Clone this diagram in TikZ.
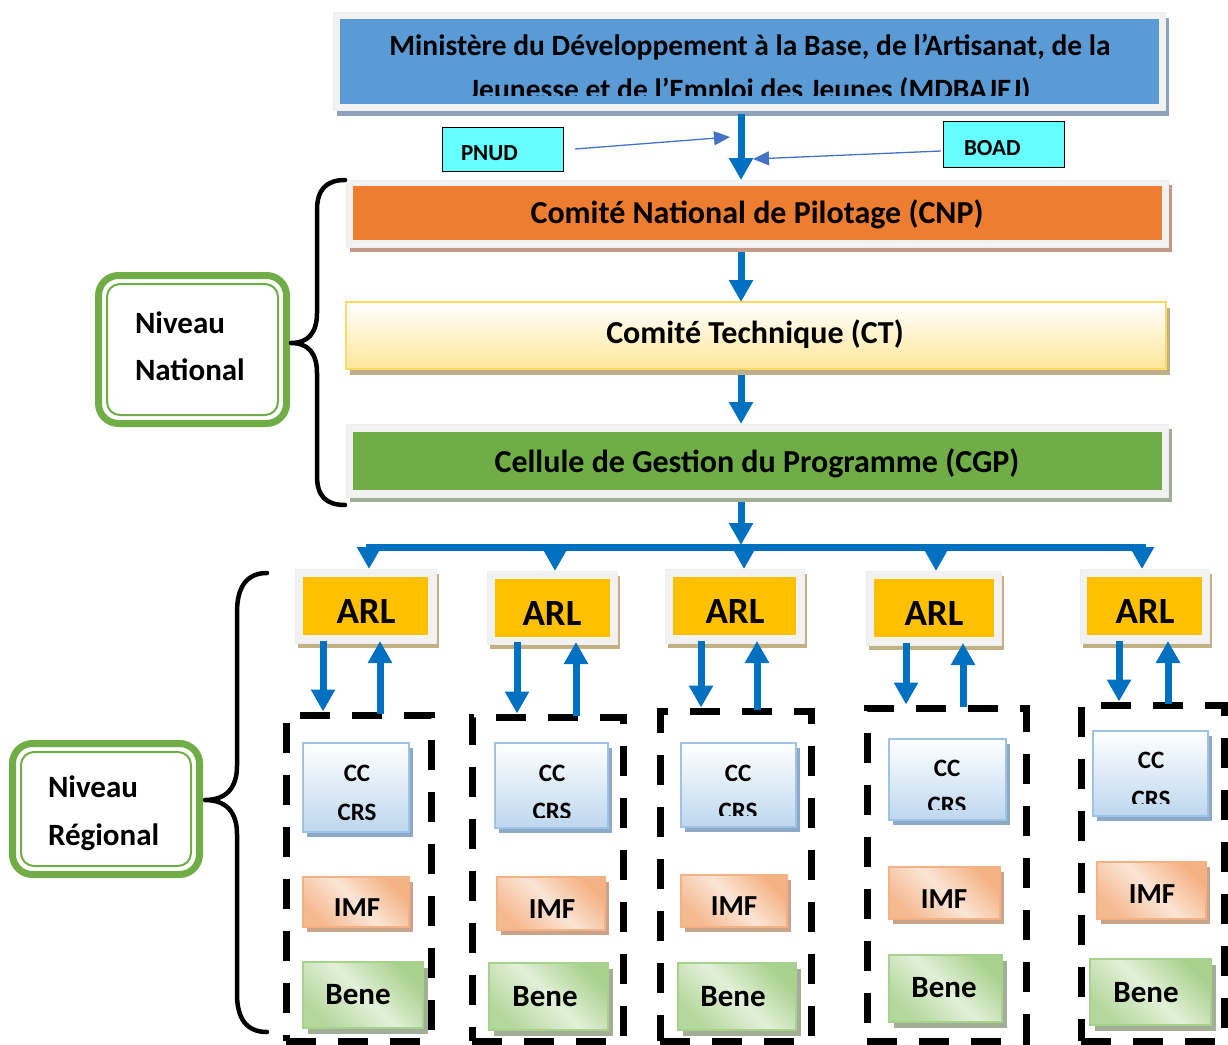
\documentclass[tikz,border=0pt]{standalone}
\usepackage{fontspec}
\setmainfont{Carlito}
\usetikzlibrary{arrows.meta,shadows,calc,fit}

\definecolor{mblue}{HTML}{5B9BD5}
\definecolor{frameg}{HTML}{F2F2F2}
\definecolor{shblue}{HTML}{8EA2BA}
\definecolor{orng}{HTML}{ED7D31}
\definecolor{shorng}{HTML}{C49A86}
\definecolor{ctyel}{HTML}{FFE699}
\definecolor{ctbord}{HTML}{FFD966}
\definecolor{shtan}{HTML}{BFB08A}
\definecolor{cgpg}{HTML}{70AD47}
\definecolor{shgreen}{HTML}{A0AE98}
\definecolor{arly}{HTML}{FFC000}
\definecolor{sharl}{HTML}{C2B283}
\definecolor{arrowb}{HTML}{0070C0}
\definecolor{thinb}{HTML}{4472C4}
\definecolor{cyanbox}{HTML}{66FFFF}
\definecolor{ccb}{HTML}{BDD7EE}
\definecolor{ccbord}{HTML}{9DC3E6}
\definecolor{shcc}{HTML}{8EA9C8}
\definecolor{imfd}{HTML}{F4B183}
\definecolor{imfl}{HTML}{FBE5D6}
\definecolor{shimf}{HTML}{C9A38C}
\definecolor{bened}{HTML}{A9D18E}
\definecolor{benel}{HTML}{E2F0D9}
\definecolor{shbene}{HTML}{A3AE98}
\definecolor{lvlg}{HTML}{70AD47}

\newcommand\fsz[1]{\fontsize{#1}{#1}\selectfont\bfseries}

\begin{document}
\begin{tikzpicture}[x=1pt,y=-1pt,
  txt/.style={inner sep=0pt, outer sep=0pt, text=black, anchor=base},
  titletxt/.style={txt, font=\fsz{29.5}},
  lvltxt/.style={txt, font=\fsz{32}},
  fundtxt/.style={txt, anchor=base west, font=\fsz{23}},
  arltxt/.style={txt, font=\fsz{37}},
  cctxt/.style={txt, font=\fsz{25}},
  imftxt/.style={txt, font=\fsz{29}},
  benetxt/.style={txt, font=\fsz{31}},
  leveltxt/.style={txt, anchor=base west, font=\fsz{31}},
  frame/.style={fill=frameg, draw=black!7, line width=0.6pt, inner sep=0pt, outer sep=0pt},
  plain/.style={inner sep=0pt, outer sep=0pt},
  fundbox/.style={plain, fill=cyanbox, draw=black, line width=1pt},
  arlframe/.style={frame, general shadow={fill=sharl, shadow xshift=3pt, shadow yshift=-5pt}},
  arlfill/.style={plain, fill=arly},
  grpbox/.style={plain, draw=black, line width=7pt, dash pattern=on 30pt off 22pt},
  ccbox/.style={plain, draw=ccbord, line width=1.5pt, top color=white, bottom color=ccb,
    general shadow={fill=shcc, shadow xshift=4pt, shadow yshift=-5pt}},
  imfbox/.style={plain, draw=imfd, line width=1.5pt, top color=imfd, bottom color=imfd!85!imfl,
    middle color=imfl, shading angle=-45,
    general shadow={fill=shimf, shadow xshift=4pt, shadow yshift=-5pt}},
  benebox/.style={plain, draw=bened, line width=1.5pt, top color=bened, bottom color=bened!80!benel,
    middle color=benel, shading angle=-45,
    general shadow={fill=shbene, shadow xshift=5pt, shadow yshift=-6pt}},
  lvlbox/.style={plain, draw=lvlg, line width=7pt, fill=white, rounded corners=20pt},
  lvlinner/.style={draw=lvlg, line width=2pt, rounded corners=13pt},
  bigarrow/.style={draw=arrowb, line width=7pt, -{Triangle[width=23pt,length=22pt]}},
  thinarrow/.style={draw=thinb, line width=1.3pt, -{Triangle[width=14pt,length=16pt]}},
  brace/.style={draw=black, line width=4.5pt, line cap=round, line join=round},
]
\useasboundingbox (0,0) rectangle (1228,1044);

% ---------- national level ----------
\node[frame, fit={(333,12)(1165,110)},
      general shadow={fill=shblue, shadow xshift=4pt, shadow yshift=-6pt}] (mdbF) {};
\node[plain, fill=mblue, fit={(340,19)(1159,104)}] (mdb) {};
\begin{scope}
  \clip (340,19) rectangle (1159,95.5);
  \node[titletxt] (mdbL1) at (750,55) {Ministère du Développement à la Base, de l’Artisanat, de la};
  \node[titletxt] (mdbL2) at (750,99) {Jeunesse et de l’Emploi des Jeunes (MDBAJEJ)};
\end{scope}

\node[fundbox, fit={(442,127)(563,171)}] (pnud) {};
\node[fundtxt] (pnudT) at (461,160) {PNUD};
\node[fundbox, fit={(943,121)(1064,167)}] (boad) {};
\node[fundtxt] (boadT) at (964,155) {BOAD};

\node[frame, fit={(346,180)(1168,247)},
      general shadow={fill=shorng, shadow xshift=4pt, shadow yshift=-5pt}] (cnpF) {};
\node[plain, fill=orng, fit={(353,186)(1162,240)}] (cnp) {};
\node[lvltxt] (cnpT) at (757,223) {Comité National de Pilotage (CNP)};

\node[plain, fit={(346,302)(1166,369)}, draw=ctbord, line width=2pt,
      top color=white, bottom color=ctyel,
      general shadow={fill=shtan, shadow xshift=4pt, shadow yshift=-6pt}] (ct) {};
\node[lvltxt] (ctT) at (755,343) {Comité Technique (CT)};

\node[frame, fit={(346,424)(1168,497)},
      general shadow={fill=shgreen, shadow xshift=4pt, shadow yshift=-5pt}] (cgpF) {};
\node[plain, fill=cgpg, fit={(353,432)(1162,490)}] (cgp) {};
\node[lvltxt] (cgpT) at (757,472) {Cellule de Gestion du Programme (CGP)};

% main chain
\coordinate (spine) at (741,0);
\coordinate (pnudTip) at (730,137);
\coordinate (boadTip) at (753,159);
\draw[bigarrow, shorten <=4pt] (mdbF.south -| spine) -- (cnpF.north -| spine);
\draw[thinarrow] ($(pnud.east)+(12,0)$) -- (pnudTip);
\draw[thinarrow] ($(boad.west)+(-2,7)$) -- (boadTip);
\draw[bigarrow, shorten <=5pt] (cnpF.south -| spine) -- (ct.north -| spine);
\draw[bigarrow, shorten <=6pt] (ct.south -| spine) -- (cgpF.north -| spine);

% distribution bus
\coordinate (busL) at (369,547);
\coordinate (busR) at (1142,547);
\draw[bigarrow, shorten <=5pt, shorten >=2pt] (cgpF.south -| spine) -- (busL -| spine);
\draw[draw=arrowb, line width=7pt, line cap=rect] (busL) -- (busR);

% ---------- regional level ----------
% ARL boxes
\node[arlframe, fit={(295,569)(436,643)}] (arlF1) {};
\node[arlfill, fit={(303,577)(428,635)}] (arl1) {};
\node[arltxt] (arlT1) at (366,623) {ARL};
\node[arlframe, fit={(487,571)(617,644)}] (arlF2) {};
\node[arlfill, fit={(495,579)(610,637)}] (arl2) {};
\node[arltxt] (arlT2) at (552,625) {ARL};
\node[arlframe, fit={(665,569)(804,643)}] (arlF3) {};
\node[arlfill, fit={(673,577)(796,635)}] (arl3) {};
\node[arltxt] (arlT3) at (735,623) {ARL};
\node[arlframe, fit={(866,571)(1001,645)}] (arlF4) {};
\node[arlfill, fit={(874,579)(994,637)}] (arl4) {};
\node[arltxt] (arlT4) at (934,625) {ARL};
\node[arlframe, fit={(1080,569)(1209,643)}] (arlF5) {};
\node[arlfill, fit={(1087,577)(1202,635)}] (arl5) {};
\node[arltxt] (arlT5) at (1145,623) {ARL};

\foreach \i/\x in {1/369, 2/555, 3/744, 4/936, 5/1142} {
  \coordinate (bx\i) at (\x,0);
  \draw[bigarrow] (busL -| bx\i) -- (arlF\i.north -| bx\i);
}

% local groups
\node[grpbox, fit={(286,715)(431,1041)}] (grp1) {};
\node[grpbox, fit={(472,717)(623,1041)}] (grp2) {};
\node[grpbox, fit={(660,711)(811,1041)}] (grp3) {};
\node[grpbox, fit={(867,708)(1026,1041)}] (grp4) {};
\node[grpbox, fit={(1081,705)(1224,1041)}] (grp5) {};

% column 1
\node[ccbox, fit={(303,743)(409,832)}] (cc1) {};
\node[cctxt] (cc1a) at (357,781) {CC};
\node[cctxt] (cc1b) at (357,820) {CRS};
\node[imfbox, fit={(303,877)(409,927)}] (imf1) {};
\begin{scope}\clip (303,877) rectangle (409,915.5);
  \node[imftxt] (imf1t) at (357,917) {IMF};
\end{scope}
\node[benebox, fit={(303,962)(423,1028)}] (bene1) {};
\node[benetxt] (bene1t) at (358,1004) {Bene};

% column 2
\node[ccbox, fit={(495,743)(608,828)}] (cc2) {};
\node[cctxt] (cc2a) at (552,781) {CC};
\begin{scope}\clip (495,743) rectangle (608,817);
  \node[cctxt] (cc2b) at (552,819) {CRS};
\end{scope}
\node[imfbox, fit={(497,877)(605,930)}] (imf2) {};
\node[imftxt] (imf2t) at (552,918) {IMF};
\node[benebox, fit={(489,963)(608,1030)}] (bene2) {};
\node[benetxt] (bene2t) at (545,1006) {Bene};

% column 3
\node[ccbox, fit={(681,743)(796,827)}] (cc3) {};
\node[cctxt] (cc3a) at (738,781) {CC};
\begin{scope}\clip (681,743) rectangle (796,815);
  \node[cctxt] (cc3b) at (738,819) {CRS};
\end{scope}
\node[imfbox, fit={(681,875)(787,927)}] (imf3) {};
\node[imftxt] (imf3t) at (734,915) {IMF};
\node[benebox, fit={(678,963)(796,1030)}] (bene3) {};
\node[benetxt] (bene3t) at (733,1006) {Bene};

% column 4
\node[ccbox, fit={(889,739)(1006,820)}] (cc4) {};
\node[cctxt] (cc4a) at (947,776) {CC};
\begin{scope}\clip (889,739) rectangle (1006,809);
  \node[cctxt] (cc4b) at (947,813) {CRS};
\end{scope}
\node[imfbox, fit={(889,867)(1000,919)}] (imf4) {};
\node[imftxt] (imf4t) at (944,908) {IMF};
\node[benebox, fit={(889,955)(1002,1022)}] (bene4) {};
\node[benetxt] (bene4t) at (944,997) {Bene};

% column 5
\node[ccbox, fit={(1093,731)(1208,816)}] (cc5) {};
\node[cctxt] (cc5a) at (1151,768) {CC};
\begin{scope}\clip (1093,731) rectangle (1208,803);
  \node[cctxt] (cc5b) at (1151,807) {CRS};
\end{scope}
\node[imfbox, fit={(1097,862)(1206,919)}] (imf5) {};
\node[imftxt] (imf5t) at (1152,903) {IMF};
\node[benebox, fit={(1090,959)(1211,1025)}] (bene5) {};
\node[benetxt] (bene5t) at (1146,1002) {Bene};

% exchanges between each ARL and its group
\foreach \i/\d/\u in {1/323/380, 2/517/576, 3/701/757, 4/906/963, 5/1119/1168} {
  \coordinate (dn\i) at (\d,0);
  \coordinate (up\i) at (\u,0);
  \draw[bigarrow, shorten <=-2pt] (arlF\i.south -| dn\i) -- ([yshift=3.5pt]grp\i.north -| dn\i);
  \draw[bigarrow, shorten >=-2pt] ([yshift=1.5pt]grp\i.north -| up\i) -- (arlF\i.south -| up\i);
}

% ---------- level labels and braces ----------
\node[lvlbox, fit={(98.5,275.5)(286.5,423.5)}] (nat) {};
\draw[lvlinner] ($(nat.north west)+(8.5,8.5)$) rectangle ($(nat.south east)+(-8.5,-8.5)$);
\node[leveltxt] (natL1) at (135,333) {Niveau};
\node[leveltxt] (natL2) at (135,380) {National};

\node[lvlbox, fit={(12.5,743.5)(199.5,874.5)}] (reg) {};
\draw[lvlinner] ($(reg.north west)+(8.5,8.5)$) rectangle ($(reg.south east)+(-8.5,-8.5)$);
\node[leveltxt] (regL1) at (48,797) {Niveau};
\node[leveltxt] (regL2) at (48,845) {Régional};

\draw[brace] (345,180) .. controls (326,180) and (317,190) .. (317,210)
  -- (317,313) .. controls (317,333) and (308,343) .. (291,343)
  .. controls (308,343) and (317,353) .. (317,373)
  -- (317,476) .. controls (317,496) and (326,505) .. (345,505);

\draw[brace] (267,573) .. controls (246,573) and (237,588) .. (237,612)
  -- (237,766) .. controls (237,788) and (226,800) .. (205,800)
  .. controls (226,800) and (237,812) .. (237,834)
  -- (237,994) .. controls (237,1018) and (246,1032) .. (267,1032);
\end{tikzpicture}
\end{document}
